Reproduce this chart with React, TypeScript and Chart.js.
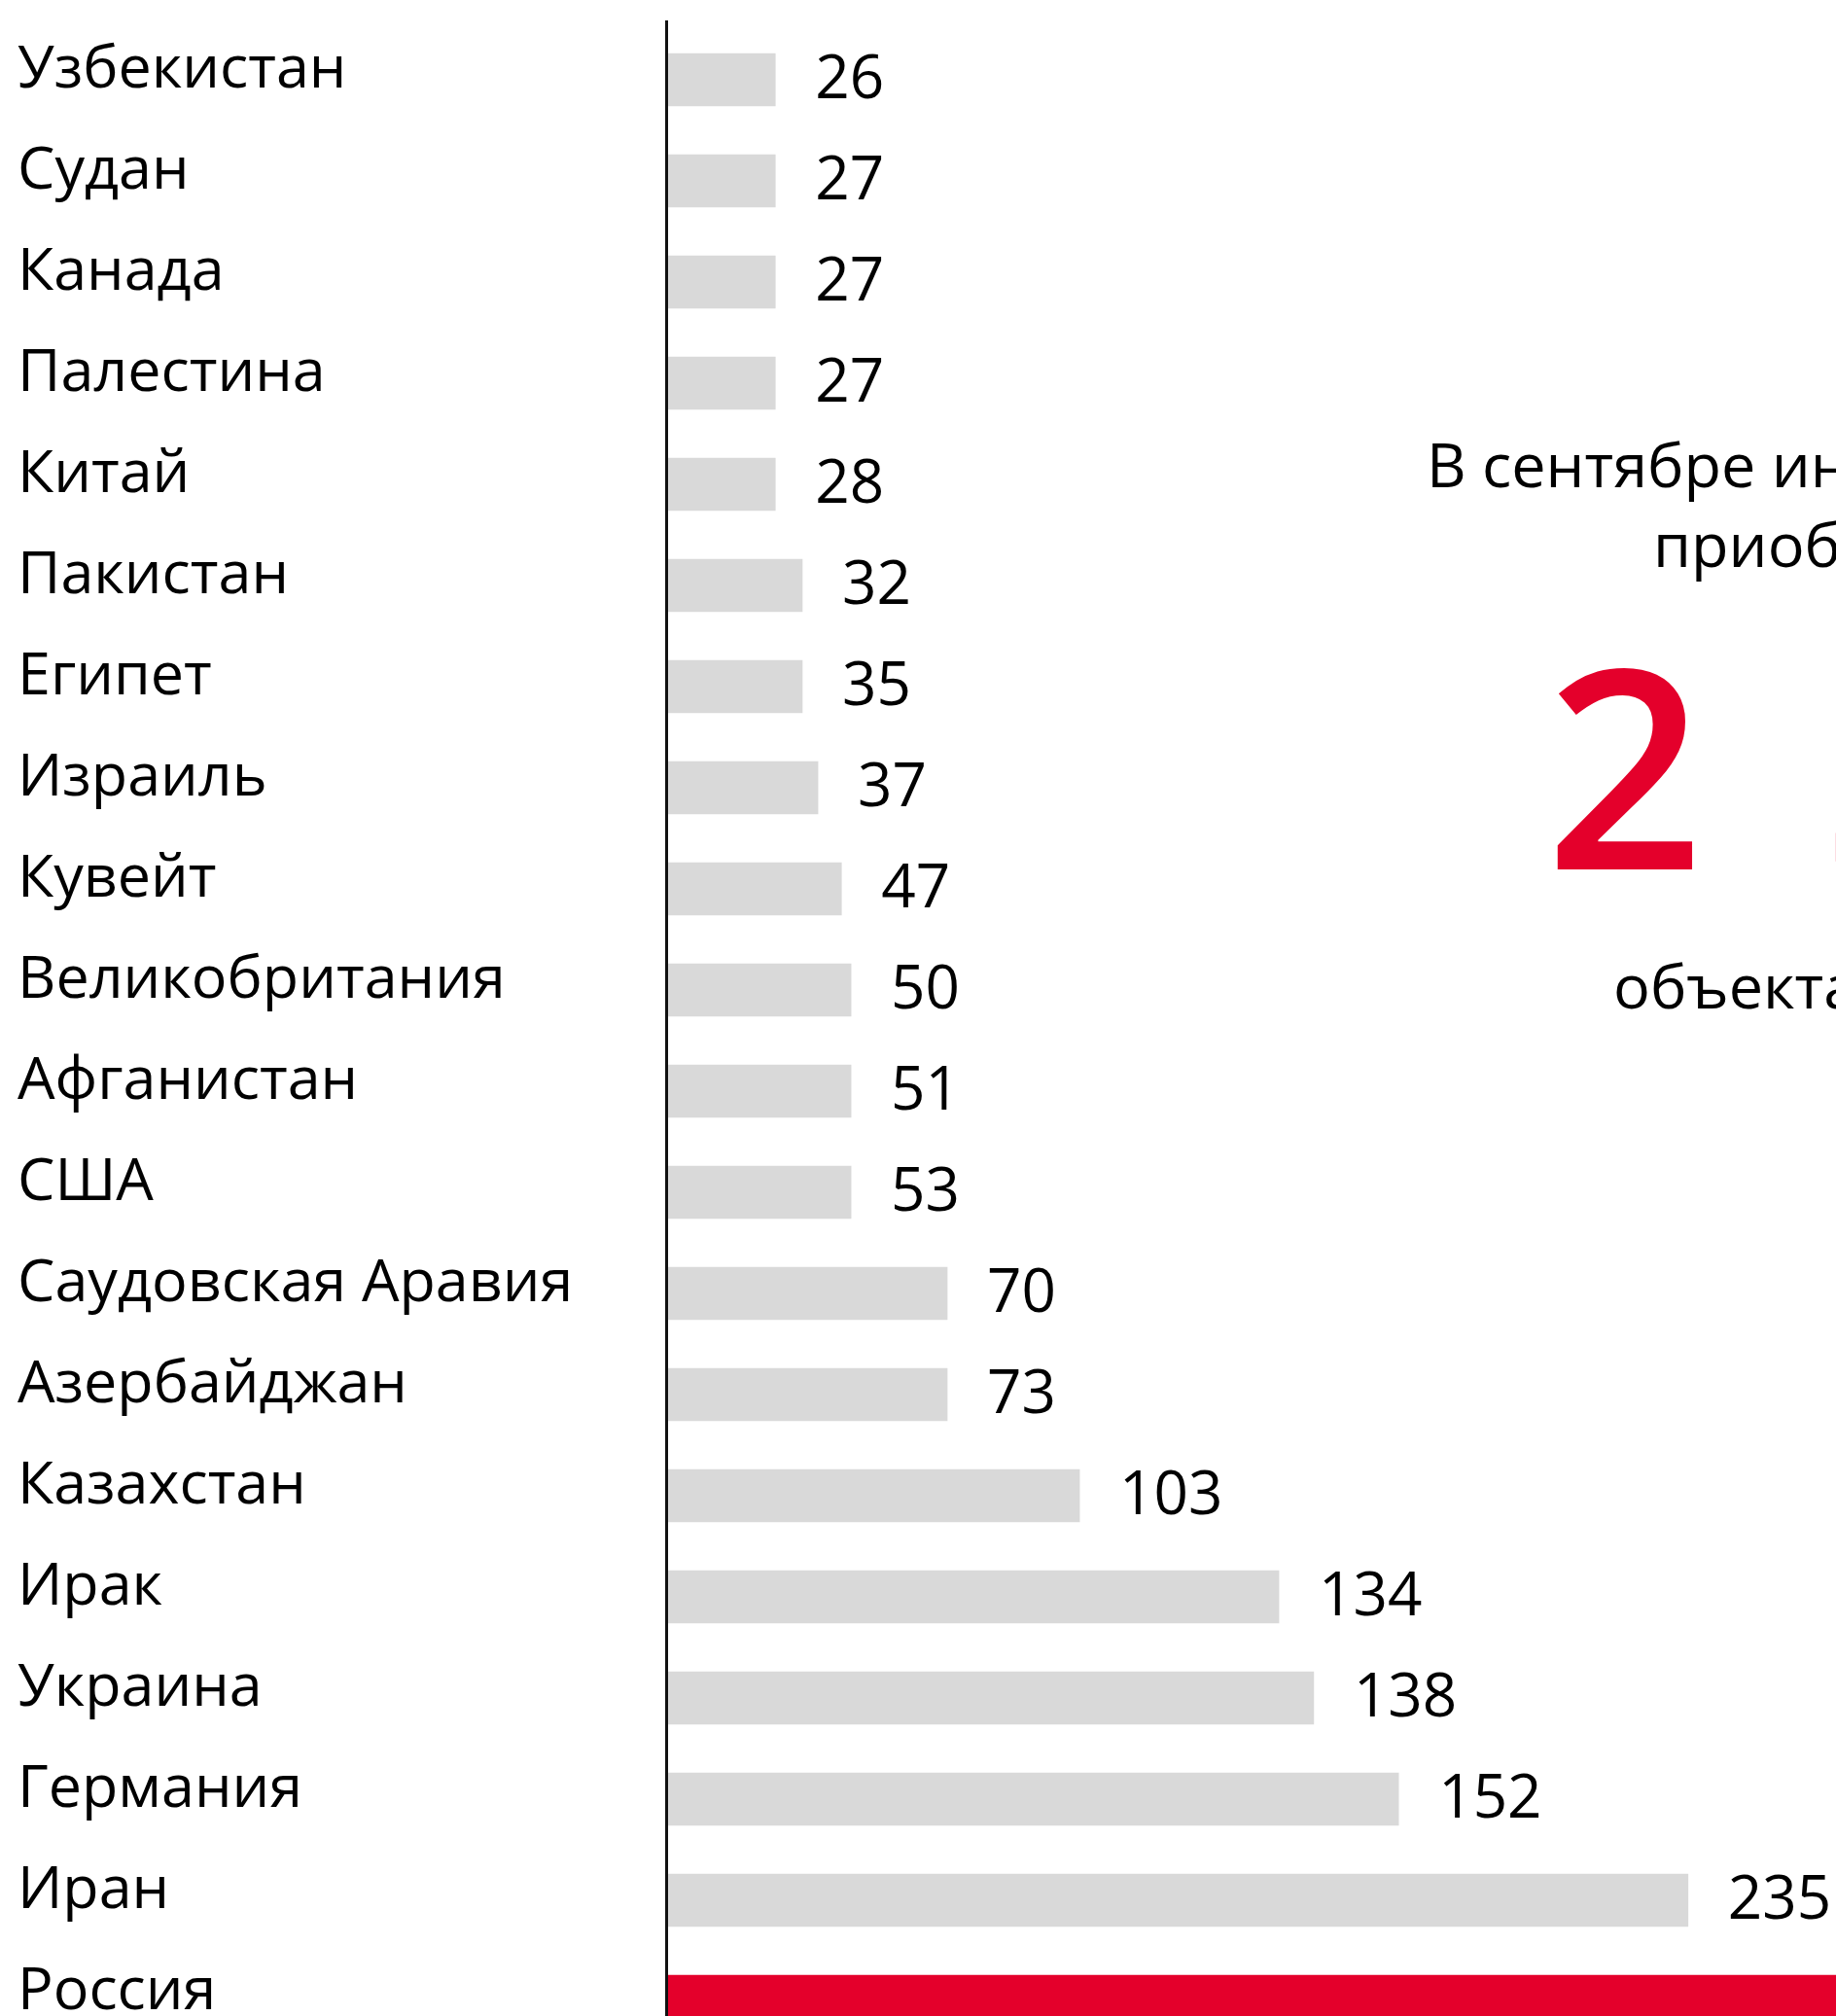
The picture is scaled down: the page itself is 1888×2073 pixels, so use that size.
import React, { useEffect, useRef } from "react";
import { Chart, registerables } from "chart.js";

Chart.register(...registerables);

// ---- Data ----
const countries = [
  "Узбекистан",
  "Судан",
  "Канада",
  "Палестина",
  "Китай",
  "Пакистан",
  "Египет",
  "Израиль",
  "Кувейт",
  "Великобритания",
  "Афганистан",
  "США",
  "Саудовская Аравия",
  "Азербайджан",
  "Казахстан",
  "Ирак",
  "Украина",
  "Германия",
  "Иран",
  "Россия",
];

// numbers printed next to the bars
const valueLabels = [
  "26", "27", "27", "27", "28", "32", "35", "37", "47", "50",
  "51", "53", "70", "73", "103", "134", "138", "152", "235", "",
];

// bar lengths as drawn in the picture (same units, Iran = 235); Россия runs off the edge
const barLengths = [
  25.3, 25.3, 25.3, 25.3, 25.3, 31.5, 31.5, 35.1, 40.5, 42.7,
  42.7, 42.7, 64.8, 64.8, 95.2, 141, 149, 168.5, 235, 300,
];

const axisMax = 269;

const headlineLines = ["В сентябре иностранцы", "приобрели"];
const bigNumberParts = ["2", "3"];
const unitText = "объекта";

const GREY = "#D9D9D9";
const RED = "#E4002B";

export default function App() {
  const canvasRef = useRef<HTMLCanvasElement | null>(null);

  useEffect(() => {
    document.body.style.margin = "0";
    const canvas = canvasRef.current;
    if (!canvas) return;

    const overlay = {
      id: "overlay",
      afterDatasetsDraw(chart: any) {
        const ctx = chart.ctx as CanvasRenderingContext2D;
        const meta = chart.getDatasetMeta(0);
        ctx.save();
        // value labels
        ctx.fillStyle = "#000";
        ctx.font = '62px "Open Sans"';
        ctx.textAlign = "left";
        ctx.textBaseline = "alphabetic";
        meta.data.forEach((bar: any, i: number) => {
          const t = valueLabels[i];
          if (!t) return;
          ctx.fillText(t, bar.x + 41, bar.y + 19);
        });
        // vertical axis line
        const x = chart.scales.x.left + 1.5;
        ctx.strokeStyle = "#111";
        ctx.lineWidth = 3;
        ctx.beginPath();
        ctx.moveTo(x, 21);
        ctx.lineTo(x, chart.height);
        ctx.stroke();
        // headline block
        ctx.fillStyle = "#000";
        ctx.font = '63px "Open Sans"';
        ctx.fillText(headlineLines[0], 1467, 501);
        ctx.fillText(headlineLines[1], 1700, 583);
        ctx.fillText(unitText, 1659, 1037);
        ctx.fillStyle = RED;
        ctx.font = '600 286px "Open Sans"';
        ctx.fillText(bigNumberParts[0], 1589, 894);
        ctx.fillText(bigNumberParts[1], 1876, 894);
        ctx.restore();
      },
    };

    const chart = new Chart(canvas, {
      type: "bar",
      data: {
        labels: countries,
        datasets: [
          {
            data: barLengths,
            backgroundColor: countries.map((_, i) =>
              i === countries.length - 1 ? RED : GREY
            ),
            borderWidth: 0,
            barThickness: 54,
          },
        ],
      },
      options: {
        indexAxis: "y",
        animation: false,
        responsive: false,
        maintainAspectRatio: false,
        layout: { padding: { top: 30, bottom: 30, left: 18, right: 0 } },
        plugins: {
          legend: { display: false },
          tooltip: { enabled: false },
        },
        scales: {
          x: {
            display: false,
            min: 0,
            max: axisMax,
            grid: { display: false },
          },
          y: {
            grid: { display: false, drawTicks: false },
            border: { display: false },
            afterFit: (scale: any) => {
              scale.width = 666;
            },
            ticks: {
              crossAlign: "far",
              color: "#000",
              labelOffset: -9,
              font: { family: "Open Sans", size: 61, lineHeight: 0.4 },
            },
          },
        },
      },
      plugins: [overlay],
    });

    return () => chart.destroy();
  }, []);

  return (
    <div
      style={{
        width: 1888,
        height: 2073,
        overflow: "hidden",
        position: "relative",
        background: "#fff",
      }}
    >
      <canvas
        ref={canvasRef}
        width={1888}
        height={2140}
        style={{ display: "block", width: 1888, height: 2140 }}
      />
    </div>
  );
}
